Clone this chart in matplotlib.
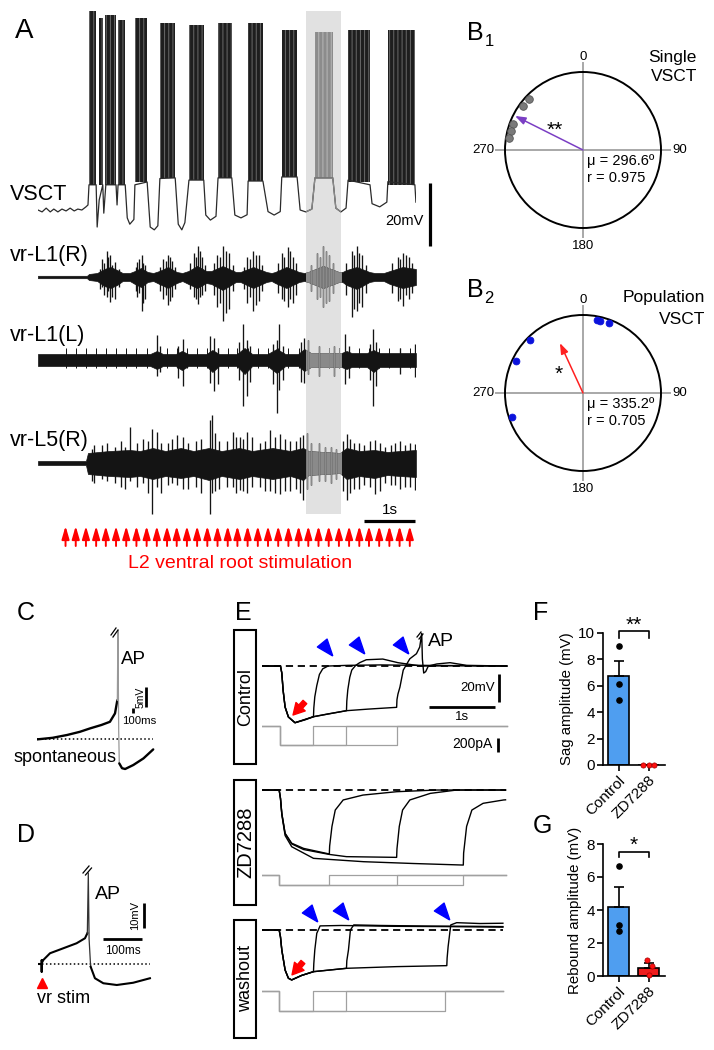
import numpy as np
import matplotlib
matplotlib.use("Agg")
import matplotlib.pyplot as plt
from matplotlib.patches import Rectangle

plt.rcParams['font.family'] = ['Liberation Sans', 'DejaVu Sans']
plt.rcParams['axes.unicode_minus'] = False
plt.rcParams['hatch.linewidth'] = 0.7

# ====================== DATA ======================
# ---- Panel A : time in s, VSCT in mV, ventral roots in a.u. ----
shade_s = [5.26, 5.94]
vsct_t = [0.00, 0.08, 0.16, 0.24, 0.31, 0.39, 0.47, 0.55, 0.63, 0.71, 0.78, 0.86, 0.94, 0.98,
          1.00, 1.14, 1.16, 1.20, 1.27, 1.29, 1.33, 1.53, 1.55, 1.57, 1.71,
          1.75, 1.80, 1.88, 1.90, 2.14, 2.20, 2.28, 2.35, 2.39, 2.69, 2.75, 2.82, 2.88, 2.96,
          3.25, 3.29, 3.38, 3.49, 3.53, 3.80, 3.86, 3.98, 4.10, 4.12, 4.41, 4.51, 4.63, 4.75,
          4.78, 5.08, 5.14, 5.25, 5.37, 5.43, 5.78, 5.84, 5.94, 6.04, 6.08, 6.51, 6.55, 6.70,
          6.84, 6.86, 7.39, 7.41]
vsct_mv = [-60.0, -60.6, -59.4, -60.6, -59.7, -60.6, -59.7, -60.3, -59.4, -60.3, -59.7, -60.0, -59.0, -58.4,
           -52, -52, -65.4, -56.8, -52, -61, -52, -52, -58.4, -52, -52,
           -62.5, -64.5, -63, -52, -51.1, -65.4, -66.3, -65, -50, -49.8, -64.5, -66.3, -64, -50.5,
           -50.5, -61.6, -63.2, -62, -49.8, -49.8, -61.6, -62.5, -61.5, -50.8, -50.8, -60.5, -61.6, -60.5,
           -49.5, -49.5, -60, -60.6, -59.7, -49.8, -49.8, -59.4, -60.6, -59.4, -50.5, -52, -58, -59,
           -57.5, -51, -52, -57.5]
burst_on_s = [1.00, 1.20, 1.31, 1.57, 1.90, 2.39, 2.96, 3.53, 4.12, 4.78, 5.43, 6.08, 6.86]
burst_off_s = [1.14, 1.27, 1.53, 1.71, 2.14, 2.69, 3.25, 3.80, 4.41, 5.08, 5.78, 6.51, 7.39]
burst_top_mv = [3.2, 1.0, 1.9, 0.3, 1.0, -0.6, -1.3, -0.6, -0.6, -2.9, -3.5, -2.9, -2.9]
burst_floor_mv = [-52, -52, -52, -52, -51.1, -49.8, -50.5, -49.8, -50.8, -49.5, -49.8, -51, -52]

vrL1R_t = [0.00, 0.96, 1.00, 1.16, 1.30, 1.42, 1.55, 1.66, 1.80, 1.90, 2.02, 2.15, 2.26, 2.38, 2.55,
           2.72, 2.83, 2.95, 3.12, 3.30, 3.40, 3.62, 3.88, 3.97, 4.22, 4.48, 4.58, 4.65, 4.87, 5.12,
           5.22, 5.30, 5.59, 5.90, 5.97, 6.05, 6.25, 6.50, 6.60, 6.78, 6.90, 7.15, 7.41]
vrL1R_up = [1.2, 1.2, 3, 4, 8, 10, 7, 4, 4, 6, 9, 5, 4, 6, 10, 5, 4, 6, 11, 6, 6, 11, 5, 5, 10, 5,
            4, 5, 10, 5, 4, 5, 11, 5, 5, 7, 10, 5, 4, 4, 6, 10, 8]
vrL1R_dn = [1.2, 1.2, 3, 4, 9, 11, 8, 4, 4, 7, 10, 5, 4, 7, 11, 6, 4, 7, 11, 6, 7, 13, 5, 5, 11, 5,
            4, 6, 11, 5, 4, 5, 11, 5, 5, 8, 12, 5, 4, 4, 7, 11, 8]
vrL1R_spk_t = [1.21, 1.25, 1.30, 1.35, 1.38, 1.42, 1.46, 1.50, 1.58, 1.92, 1.95, 1.99, 2.03, 2.06,
               2.10, 2.40, 2.45, 2.50, 2.55, 2.58, 2.62, 2.68, 2.98, 3.05, 3.09, 3.13, 3.17, 3.22,
               3.27, 3.45, 3.50, 3.56, 3.62, 3.68, 3.75, 3.82, 4.03, 4.10, 4.15, 4.22, 4.28, 4.33,
               4.40, 4.70, 4.78, 4.83, 4.90, 4.95, 5.00, 5.06, 5.35, 5.48, 5.53, 5.59, 5.64, 5.70,
               5.78, 6.04, 6.15, 6.20, 6.25, 6.30, 6.35, 6.43, 6.95, 7.05, 7.10, 7.15, 7.22, 7.28, 7.34]
vrL1R_spk_up = [8, 18, 14, 26, 20, 22, 12, 15, 8, 10, 15, 18, 22, 14, 12, 10, 18, 16, 22, 20, 16,
                10, 14, 24, 20, 31, 26, 20, 12, 14, 22, 20, 31, 26, 24, 12, 10, 20, 18, 26, 22, 22,
                12, 14, 24, 20, 30, 26, 20, 14, 12, 24, 20, 31, 26, 22, 14, 14, 26, 22, 31, 24, 22,
                12, 14, 20, 18, 24, 22, 20, 14]
vrL1R_spk_dn = [12, 10, 18, 20, 14, 25, 20, 22, 10, 14, 20, 16, 34, 26, 22, 14, 22, 18, 28, 24, 20,
                12, 12, 20, 22, 27, 20, 18, 14, 18, 30, 26, 44, 36, 32, 14, 12, 26, 20, 34, 28, 24,
                14, 16, 22, 24, 30, 22, 26, 18, 14, 22, 20, 30, 26, 24, 16, 18, 40, 32, 34, 26, 30,
                16, 16, 24, 22, 29, 18, 22, 16]

vrL1L_t = [0.00, 2.20, 2.33, 2.45, 2.70, 2.82, 2.95, 3.30, 3.42, 3.55, 3.90, 4.05, 4.20, 4.50,
           4.68, 4.85, 5.10, 5.22, 5.35, 5.95, 6.05, 6.15, 6.45, 6.58, 6.70, 7.41]
vrL1L_up = [6, 6, 9, 6, 6, 9, 6, 6, 10, 6, 6, 12, 6, 6, 11, 6, 6, 11, 7, 7, 9, 7, 7, 10, 7, 7]
vrL1L_dn = [6, 6, 9, 6, 6, 10, 6, 6, 12, 6, 6, 14, 6, 6, 13, 6, 6, 11, 7, 7, 9, 7, 7, 12, 7, 7]
vrL1L_spk_t = [2.33, 2.40, 2.75, 2.85, 3.37, 3.45, 3.52, 3.95, 4.02, 4.09, 4.15, 4.60, 4.68,
               4.73, 4.80, 5.15, 5.22, 5.30, 5.50, 5.80, 6.02, 6.10, 6.50, 6.57, 6.63, 7.10, 7.39]
vrL1L_spk_up = [25, 14, 14, 21, 24, 22, 12, 18, 36, 20, 14, 16, 20, 36, 14, 18, 22, 20, 14,
                14, 26, 14, 16, 31, 18, 12, 16]
vrL1L_spk_dn = [16, 12, 18, 26, 23, 31, 24, 20, 46, 36, 22, 24, 53, 30, 20, 22, 23, 14, 16,
                16, 24, 18, 20, 46, 26, 14, 17]
stim_artifact_up, stim_artifact_dn = 12, 8

vrL5R_t = [0.00, 0.94, 0.98, 1.40, 1.80, 2.00, 2.25, 2.50, 2.80, 3.05, 3.35, 3.60, 3.95, 4.20,
           4.60, 4.95, 5.20, 5.30, 5.60, 5.92, 6.05, 6.30, 6.60, 6.85, 7.10, 7.41]
vrL5R_up = [2, 2, 10, 12, 13, 12, 15, 12, 15, 12, 15, 12, 15, 12, 15, 12, 15, 12, 11, 10, 15, 12,
            13, 11, 12, 13]
vrL5R_dn = [2, 2, 11, 13, 14, 13, 16, 13, 15, 13, 17, 13, 16, 13, 16, 13, 17, 12, 11, 10, 16, 13,
            15, 12, 13, 14]
vrL5R_spk_t = [1.05, 1.10, 1.25, 1.35, 1.50, 1.62, 1.70, 1.80, 1.95, 2.05, 2.15, 2.23, 2.33, 2.42,
               2.55, 2.62, 2.73, 2.85, 2.95, 3.10, 3.20, 3.37, 3.41, 3.48, 3.55, 3.70, 3.82, 3.88,
               3.96, 4.02, 4.10, 4.20, 4.35, 4.45, 4.55, 4.65, 4.75, 4.85, 4.95, 5.05, 5.14, 5.20,
               5.27, 5.35, 5.50, 5.62, 5.75, 5.85, 5.98, 6.06, 6.12, 6.20, 6.30, 6.40, 6.50, 6.61,
               6.70, 6.80, 6.92, 7.00, 7.10, 7.20, 7.30, 7.39]
vrL5R_spk_up = [14, 18, 18, 20, 16, 22, 16, 36, 20, 24, 22, 34, 31, 20, 20, 24, 28, 26, 20, 22,
                24, 43, 48, 30, 22, 22, 31, 26, 26, 24, 31, 26, 20, 22, 33, 26, 29, 24, 22, 22,
                26, 28, 30, 20, 20, 16, 16, 14, 22, 29, 24, 20, 20, 18, 22, 23, 20, 16, 18, 20,
                22, 18, 20, 19]
vrL5R_spk_dn = [18, 20, 16, 18, 20, 24, 26, 18, 24, 20, 30, 51, 24, 30, 22, 20, 22, 26, 26, 24,
                30, 51, 30, 28, 26, 24, 24, 30, 27, 28, 30, 24, 24, 28, 28, 30, 31, 28, 28, 26,
                30, 37, 26, 22, 18, 18, 20, 16, 28, 37, 30, 26, 26, 22, 24, 31, 28, 20, 22, 22,
                26, 24, 24, 27]

stim_s = [0.54, 0.74, 0.94, 1.14, 1.33, 1.53, 1.73, 1.93, 2.13, 2.33, 2.53, 2.72, 2.92, 3.12,
          3.32, 3.52, 3.72, 3.91, 4.11, 4.31, 4.51, 4.71, 4.91, 5.11, 5.30, 5.50, 5.70, 5.90,
          6.10, 6.30, 6.49, 6.69, 6.89, 7.09, 7.29]

# ---- Panel B : phase preference (deg) ----
b1_angles_deg = [313.7, 306.3, 290.2, 284.7, 278.9]
b1_mu_deg, b1_r = 296.6, 0.975
b2_angles_deg = [10.8, 13.5, 20.6, 315.0, 295.8, 251.3]
b2_mu_deg, b2_r = 335.2, 0.705

# ---- Panel C : spontaneous spike (ms, mV rel. rest) ----
c_pre_t = [0, 40, 77, 110, 136, 165, 187, 200, 206]
c_pre_mv = [0, 0.4, 1.1, 1.9, 2.75, 3.6, 4.4, 6.5, 9.8]
c_ap_t = [206, 207.5, 209.5, 211]
c_ap_mv = [9.8, 27.3, 2.0, -6.0]
c_post_t = [211, 218, 226, 247, 273, 298]
c_post_mv = [-6.0, -7.2, -7.4, -6.4, -4.75, -2.5]

# ---- Panel D : vr-evoked spike (ms, mV rel. rest) ----
d_pre_t = [0, 9.4, 9.4, 9.4, 9.8, 13.6, 30.8, 65, 99, 120.5, 126.5]
d_pre_mv = [0, 0, -3.1, 1.6, 0.4, 1.6, 4.3, 6.3, 8.3, 10.3, 12.3]
d_ap_t = [126.5, 129, 131, 135]
d_ap_mv = [12.3, 36.4, 10.0, -1.1]
d_post_t = [135, 146, 167.5, 202, 244, 287]
d_post_mv = [-1.1, -5.7, -7.7, -8.4, -7.5, -5.7]
d_stim_ms = 10

# ---- Panel E : hyperpolarizing steps (s, mV rel. rest, pA) ----
ctl_t1 = [0, 0.28, 0.30, 0.32, 0.35, 0.40, 0.50, 0.65, 0.78, 0.785, 0.80, 0.83, 0.87, 0.92, 1.00, 1.30, 1.80, 2.40, 3.00, 3.71]
ctl_v1 = [0, 0, -5, -17.4, -29.3, -36.4, -40.5, -38.5, -36.2, -30, -22, -14, -6, -2, 0, 0.5, 0.8, 0.5, 0.3, 0]
ctl_t2 = [0, 0.28, 0.30, 0.32, 0.35, 0.40, 0.50, 0.78, 1.00, 1.28, 1.285, 1.30, 1.33, 1.36, 1.42, 1.48, 1.58, 1.83, 2.06, 2.41, 3.00, 3.71]
ctl_v2 = [0, 0, -5, -17.4, -29.3, -36.4, -40.5, -36.2, -34.2, -31.9, -25, -17, -8, -2.9, 0.5, 2.4, 4.5, 5, 2.4, 0, 0.3, 0]
ctl_t3 = [0, 0.28, 0.30, 0.32, 0.35, 0.40, 0.50, 0.78, 1.28, 1.60, 2.04, 2.045, 2.06, 2.09, 2.14, 2.24, 2.34, 2.39, 2.42, 2.43, 2.45, 2.48, 2.52, 2.65, 2.85, 3.10, 3.71]
ctl_v3 = [0, 0, -5, -17.4, -29.3, -36.4, -40.5, -36.2, -31.9, -30.8, -29.5, -24, -20, -15, -2.9, 5.2, 8.8, 13.6, 23.3, 5, -5, -4, 0, 1.5, 2.4, 0.5, 0]
ctl_step_on, ctl_step_off, ctl_step_pa = 0.27, [0.78, 1.28, 2.04], -270

zd_t1 = [0, 0.26, 0.28, 0.30, 0.35, 0.45, 0.63, 1.02, 1.025, 1.06, 1.11, 1.23, 1.53, 2.04, 2.65, 3.69]
zd_v1 = [0, 0, -6, -16.7, -31, -38, -41.7, -45.7, -40, -26, -14.3, -7.1, -3.6, -1.2, 0, 0]
zd_t2 = [0, 0.26, 0.28, 0.30, 0.35, 0.45, 0.63, 1.02, 1.28, 2.04, 2.045, 2.08, 2.13, 2.24, 2.55, 2.95, 3.69]
zd_v2 = [0, 0, -6, -16.7, -31, -38.5, -42.5, -46, -47.6, -48.1, -42, -26, -14.3, -7.1, -2.4, 0, 0]
zd_t3 = [0, 0.26, 0.28, 0.30, 0.35, 0.45, 0.78, 1.54, 2.30, 3.05, 3.055, 3.10, 3.18, 3.35, 3.66, 3.69]
zd_v3 = [0, 0, -6, -17.5, -32.5, -40.5, -48.8, -51.2, -52.5, -53.6, -45, -26, -14.3, -9.5, -7.1, -7]
zd_step_on, zd_step_off, zd_step_pa = 0.26, [1.02, 2.04, 3.05], -140

wo_t1 = [0, 0.26, 0.28, 0.30, 0.35, 0.40, 0.45, 0.60, 0.78, 0.785, 0.80, 0.83, 0.88, 1.20, 2.00, 2.80, 3.65]
wo_v1 = [0, 0, -5, -14.3, -28.6, -34.5, -35.7, -32.5, -29.8, -24, -14.3, -2.4, 2.9, 3.2, 2.6, 2.4, 2.0]
wo_t2 = [0, 0.26, 0.28, 0.30, 0.35, 0.40, 0.45, 0.60, 0.78, 1.28, 1.285, 1.31, 1.34, 1.39, 1.80, 2.50, 3.20, 3.65]
wo_v2 = [0, 0, -5, -14.3, -28.6, -34.5, -35.7, -32.5, -29.8, -27.4, -22, -14.3, 0, 3.6, 3.2, 2.8, 2.6, 2.4]
wo_t3 = [0, 0.26, 0.28, 0.30, 0.35, 0.40, 0.45, 0.60, 0.78, 1.28, 2.04, 2.80, 2.805, 2.82, 2.86, 2.95, 3.30, 3.65]
wo_v3 = [0, 0, -5, -14.3, -28.6, -34.5, -35.7, -32.5, -29.8, -27.4, -26.2, -25.5, -20, -11.9, 3.6, 5.2, 4.6, 4.8]
wo_step_on, wo_step_off, wo_step_pa = 0.26, [0.77, 1.28, 2.78], -285

ctl_rebound_marks_t = [0.98, 1.47, 2.14]
ctl_rebound_marks_v = [12.1, 13.3, 13.3]
wo_rebound_marks_t = [0.75, 1.23, 2.75]
wo_rebound_marks_v = [10.7, 11.9, 11.9]

# ---- Panels F, G ----
groups = ['Control', 'ZD7288']
sag_mean = [6.75, 0.0]
sag_sem = [1.15, 0.0]
sag_ctl_pts = [9.05, 6.15, 4.95]
sag_zd_pts = [0.0, 0.0, 0.0]
reb_mean = [4.2, 0.5]
reb_sem = [1.2, 0.28]
reb_ctl_pts = [6.65, 3.1, 2.75]
reb_zd_pts = [0.95, 0.62, 0.05]

# ====================== FIGURE ======================
W, H = 714, 1050
fig = plt.figure(figsize=(W / 100, H / 100), dpi=100)


def pax(x0, y0, x1, y1, **kw):
    ax = fig.add_axes([x0 / W, 1 - y1 / H, (x1 - x0) / W, (y1 - y0) / H], **kw)
    return ax


def blank(ax):
    ax.set_axis_off()
    ax.patch.set_alpha(0)


BLACK = '#141414'
GRAY = '#8a8a8a'

# ---------- Panel A ----------
A_X0, A_X1 = 38, 416
A_T1 = (A_X1 - A_X0) / 51.0

ax_bg = pax(A_X0, 11, A_X1, 514)
blank(ax_bg)
ax_bg.set_xlim(0, A_T1)
ax_bg.axvspan(shade_s[0], shade_s[1], color='#e1e1e1', lw=0)


def clip_to_shade(ax, artists):
    rect = Rectangle((shade_s[0], -1e4), shade_s[1] - shade_s[0], 2e4, transform=ax.transData)
    for a in artists:
        a.set_clip_path(rect)


# VSCT
ax_v = pax(A_X0, 5, A_X1, 240)
blank(ax_v)
ax_v.set_xlim(0, A_T1)
ax_v.set_ylim(-69.52, 5.08)


def draw_vsct(c, block_c, hatch_c):
    arts = list(ax_v.plot(vsct_t, vsct_mv, color=c, lw=0.9))
    for on, off, top, fl in zip(burst_on_s, burst_off_s, burst_top_mv, burst_floor_mv):
        arts.append(ax_v.fill_between([on, off], [fl, fl], [top, top], facecolor=block_c,
                                      edgecolor=hatch_c, hatch='||||', lw=0))
    return arts


draw_vsct('#2a2a2a', '#1e1e1e', '#6a6a6a')
clip_to_shade(ax_v, draw_vsct(GRAY, '#8c8c8c', '#b8b8b8'))
# 20 mV scale bar
ax_v.plot([7.69, 7.69], [-71.4, -51.4], color='k', lw=2.3, clip_on=False, solid_capstyle='butt')
ax_v.text(7.56, -63.5, '20mV', ha='right', va='center', fontsize=10.5)


def vr_axes(yc, half_up, half_dn):
    ax = pax(A_X0, yc - half_up, A_X1, yc + half_dn)
    blank(ax)
    ax.set_xlim(0, A_T1)
    ax.set_ylim(-half_dn, half_up)
    return ax


def draw_vr(ax, t, up, dn, st, su, sd, c, extra=None):
    t = np.asarray(t, float)
    arts = [ax.fill_between(t, np.asarray(up, float), -np.asarray(dn, float), color=c, lw=0.5)]
    arts.append(ax.vlines(st, -np.asarray(sd, float), np.asarray(su, float), color=c, lw=0.95))
    if extra is not None:
        arts.append(ax.vlines(extra[0], -extra[2], extra[1], color=c, lw=0.7))
    return arts


ax_r1 = vr_axes(277, 40, 50)
draw_vr(ax_r1, vrL1R_t, vrL1R_up, vrL1R_dn, vrL1R_spk_t, vrL1R_spk_up, vrL1R_spk_dn, BLACK)
clip_to_shade(ax_r1, draw_vr(ax_r1, vrL1R_t, vrL1R_up, vrL1R_dn, vrL1R_spk_t, vrL1R_spk_up, vrL1R_spk_dn, GRAY))

ax_r2 = vr_axes(360, 50, 60)
extra = (stim_s, stim_artifact_up, stim_artifact_dn)
draw_vr(ax_r2, vrL1L_t, vrL1L_up, vrL1L_dn, vrL1L_spk_t, vrL1L_spk_up, vrL1L_spk_dn, BLACK, extra)
clip_to_shade(ax_r2, draw_vr(ax_r2, vrL1L_t, vrL1L_up, vrL1L_dn, vrL1L_spk_t, vrL1L_spk_up, vrL1L_spk_dn, GRAY, extra))

ax_r3 = vr_axes(463, 50, 60)
draw_vr(ax_r3, vrL5R_t, vrL5R_up, vrL5R_dn, vrL5R_spk_t, vrL5R_spk_up, vrL5R_spk_dn, BLACK)
clip_to_shade(ax_r3, draw_vr(ax_r3, vrL5R_t, vrL5R_up, vrL5R_dn, vrL5R_spk_t, vrL5R_spk_up, vrL5R_spk_dn, GRAY))
# 1 s scale bar
ax_r3.plot([6.39, 7.39], [-58, -58], color='k', lw=2.3, clip_on=False, solid_capstyle='butt')
ax_r3.text(6.89, -47, '1s', ha='center', va='center', fontsize=11)

# stimulation arrows
ax_s = pax(A_X0, 526, A_X1, 546)
blank(ax_s)
ax_s.set_xlim(0, A_T1)
ax_s.set_ylim(0, 1)
for t in stim_s:
    ax_s.annotate('', xy=(t, 1.0), xytext=(t, 0.0),
                  arrowprops=dict(arrowstyle='-|>,head_length=0.55,head_width=0.16', color='#ff0000',
                                  lw=1.4, shrinkA=0, shrinkB=0, mutation_scale=14))

# ---------- Panel B ----------
def polar_panel(box, angles, dot_fc, dot_ec, dot_s, mu, r, arrow_c):
    ax = pax(*box, projection='polar')
    ax.set_theta_zero_location('N')
    ax.set_theta_direction(-1)
    ax.set_ylim(0, 1)
    ax.set_xticks([])
    ax.set_yticks([])
    ax.grid(False)
    ax.spines['polar'].set_linewidth(1.4)
    ax.plot([-0.055, 1.06], [0.5, 0.5], transform=ax.transAxes, color='#a8a8a8', lw=1.4,
            clip_on=False, zorder=0.5)
    ax.plot([0.5, 0.5], [-0.06, 1.06], transform=ax.transAxes, color='#a8a8a8', lw=1.4,
            clip_on=False, zorder=0.5)
    ax.scatter(np.deg2rad(angles), [0.955] * len(angles), s=dot_s, c=dot_fc, edgecolors=dot_ec,
               linewidths=0.6, zorder=3, clip_on=False)
    ax.annotate('', xy=(np.deg2rad(mu), r), xytext=(0, 0),
                arrowprops=dict(arrowstyle='-|>,head_length=0.7,head_width=0.25', color=arrow_c,
                                lw=1.1, shrinkA=0, shrinkB=0, mutation_scale=9))
    kw = dict(transform=ax.transAxes, fontsize=9.5)
    ax.text(0.5, 1.095, '0', ha='center', va='center', **kw)
    ax.text(1.07, 0.5, '90', ha='left', va='center', **kw)
    ax.text(0.5, -0.115, '180', ha='center', va='center', **kw)
    ax.text(-0.065, 0.5, '270', ha='right', va='center', **kw)
    return ax


polar_panel((505, 72, 661, 228), b1_angles_deg, '#7a7a7a', '#555555', 30, b1_mu_deg, b1_r, '#7b3fc4')
polar_panel((505, 315, 661, 471), b2_angles_deg, '#0b12dc', '#0b12dc', 24, b2_mu_deg, b2_r, '#ff2020')

# ---------- Panel C ----------
ax_c = pax(37, 625, 157, 775)
blank(ax_c)
ax_c.set_xlim(0, 307.7)
ax_c.set_ylim(-8.9, 28.6)
ax_c.plot([c_pre_t[0], c_post_t[-1]], [0, 0], color='k', lw=1.1, ls=(0, (1, 1.6)))
ax_c.plot(c_pre_t, c_pre_mv, color='k', lw=1.7, solid_capstyle='round')
ax_c.plot(c_ap_t, c_ap_mv, color='#999999', lw=0.9)
ax_c.plot(c_post_t, c_post_mv, color='k', lw=1.7, solid_capstyle='round')
ax_c.plot([279.5, 279.5], [8.1, 13.1], color='k', lw=2.0, clip_on=False, solid_capstyle='butt')
ax_c.plot([246, 246], [6.6, 7.8], color='k', lw=2.0, clip_on=False, solid_capstyle='butt')
ax_c.text(265, 10.6, '5mV', rotation=90, ha='center', va='center', fontsize=7.5)
ax_c.text(262, 4.6, '100ms', ha='center', va='center', fontsize=8.2)

# ---------- Panel D ----------
ax_d = pax(38, 860, 158, 990)
blank(ax_d)
ax_d.set_xlim(0, 307.7)
ax_d.set_ylim(-10.4, 41.6)
ax_d.plot([d_pre_t[0], d_post_t[-1]], [0, 0], color='k', lw=1.1, ls=(0, (1, 1.6)))
ax_d.plot(d_pre_t, d_pre_mv, color='k', lw=1.5)
ax_d.plot(d_ap_t, d_ap_mv, color='#333333', lw=0.9)
ax_d.plot(d_post_t, d_post_mv, color='k', lw=1.5)
ax_d.plot([d_stim_ms], [-7.6], marker='^', color='#ff0000', ms=7, clip_on=False, ls='none')
ax_d.plot([271.8, 271.8], [14.4, 24.4], color='k', lw=2.0, clip_on=False, solid_capstyle='butt')
ax_d.text(249, 19.4, '10mV', rotation=90, ha='center', va='center', fontsize=8)
ax_d.plot([166.7, 266.7], [10, 10], color='k', lw=2.0, clip_on=False, solid_capstyle='butt')
ax_d.text(216.7, 5.4, '100ms', ha='center', va='center', fontsize=8.5)

# ---------- Panel E ----------
E_X0, E_X1 = 262, 510
E_T1 = (E_X1 - E_X0) / 66.0


def wedge_marker(angle_deg, length=1.0, width=0.75):
    a = np.deg2rad(angle_deg)
    d = np.array([np.cos(a), np.sin(a)])
    n = np.array([-d[1], d[0]])
    tip = 0.5 * length * d
    b1 = -0.5 * length * d + 0.5 * width * n
    b2 = -0.5 * length * d - 0.5 * width * n
    return [tuple(tip), tuple(b1), tuple(b2), tuple(tip)]


BLUE_WEDGE = wedge_marker(-50.8)


def e_voltage(y0, y1, ylim, traces, t_end):
    ax = pax(E_X0, y0, E_X1, y1)
    blank(ax)
    ax.set_xlim(0, E_T1)
    ax.set_ylim(*ylim)
    ax.plot([0, t_end], [0, 0], color='k', lw=1.3, ls=(0, (4, 2.6)), zorder=1)
    for t, v in traces:
        ax.plot(t, v, color='k', lw=1.0, zorder=2)
    return ax


def e_current(y0, y1, ylim, on, offs, amp, t_end):
    ax = pax(E_X0, y0, E_X1, y1)
    blank(ax)
    ax.set_xlim(0, E_T1)
    ax.set_ylim(*ylim)
    for off in offs:
        ax.plot([0, on, on, off, off, t_end], [0, 0, amp, amp, 0, 0], color='#a0a0a0', lw=0.9)
    return ax


ax_e1 = e_voltage(620, 730, (-45.7, 32.9), [(ctl_t1, ctl_v1), (ctl_t2, ctl_v2), (ctl_t3, ctl_v3)], 3.71)
ax_e1.plot(ctl_rebound_marks_t, ctl_rebound_marks_v, ls='none', marker=BLUE_WEDGE, ms=15,
           color='#0000ff', clip_on=False)
ax_e1.annotate('', xy=(0.47, -35), xytext=(0.65, -25.7),
               arrowprops=dict(arrowstyle='simple,head_length=0.9,head_width=1.0,tail_width=0.4',
                               color='#ff0000', mutation_scale=9, shrinkA=0, shrinkB=0))
ax_e1.plot([3.59, 3.59], [-25.7, -5.7], color='k', lw=2.0, clip_on=False, solid_capstyle='butt')
ax_e1.text(3.53, -15.7, '20mV', ha='right', va='center', fontsize=9.5)
ax_e1.plot([2.53, 3.53], [-29.3, -29.3], color='k', lw=2.0, clip_on=False, solid_capstyle='butt')
ax_e1.text(3.03, -36.6, '1s', ha='center', va='center', fontsize=9.5)
ax_i1 = e_current(720, 755, (-414.3, 85.7), ctl_step_on, ctl_step_off, ctl_step_pa, 3.71)
ax_i1.plot([3.58, 3.58], [-371, -171], color='k', lw=2.0, clip_on=False, solid_capstyle='butt')
ax_i1.text(3.50, -257, '200pA', ha='right', va='center', fontsize=10)

ax_e2 = e_voltage(770, 875, (-60.7, 14.3), [(zd_t1, zd_v1), (zd_t2, zd_v2), (zd_t3, zd_v3)], 3.69)
ax_i2 = e_current(868, 895, (-285.7, 100), zd_step_on, zd_step_off, zd_step_pa, 3.69)

ax_e3 = e_voltage(900, 990, (-42.9, 21.4), [(wo_t1, wo_v1), (wo_t2, wo_v2), (wo_t3, wo_v3)], 3.65)
ax_e3.plot(wo_rebound_marks_t, wo_rebound_marks_v, ls='none', marker=BLUE_WEDGE, ms=15,
           color='#0000ff', clip_on=False)
ax_e3.annotate('', xy=(0.455, -32.1), xytext=(0.62, -22.9),
               arrowprops=dict(arrowstyle='simple,head_length=0.9,head_width=1.0,tail_width=0.4',
                               color='#ff0000', mutation_scale=9, shrinkA=0, shrinkB=0))
ax_i3 = e_current(985, 1020, (-414.3, 85.7), wo_step_on, wo_step_off, wo_step_pa, 3.65)

# ---------- Panels F, G ----------
BAR_COLORS = ['#4f9ef0', '#ee1c1c']


def bar_panel(box, means, sems, ctl_pts, zd_pts, zd_offsets, ymax, yticks, ylabel, bracket, star):
    ax = pax(*box)
    ax.bar([0, 1], means, width=0.7, color=BAR_COLORS, edgecolor='k', lw=1.2, zorder=2)
    ax.errorbar([0, 1], means, yerr=[[0, 0], sems], fmt='none', ecolor='k', elinewidth=1.2,
                capsize=3.5, capthick=1.2, zorder=3)
    ax.scatter([0] * len(ctl_pts), ctl_pts, s=14, c='k', zorder=4, clip_on=False)
    ax.scatter(1 + np.asarray(zd_offsets), zd_pts, s=14, c='#ff1010', edgecolors='#a00000',
               linewidths=0.5, zorder=4, clip_on=False)
    ax.set_xlim(-0.517, 1.55)
    ax.set_ylim(0, ymax)
    ax.set_yticks(yticks)
    ax.set_xticks([0, 1])
    ax.set_xticklabels(groups, rotation=45, ha='right', rotation_mode='anchor')
    for s in ('top', 'right'):
        ax.spines[s].set_visible(False)
    for s in ('left', 'bottom'):
        ax.spines[s].set_linewidth(1.2)
    ax.tick_params(direction='out', length=4, width=1.2, labelsize=11, pad=2)
    ax.set_ylabel(ylabel, fontsize=10.8, labelpad=3)
    y_lo, y_hi, y_star = bracket
    ax.plot([0, 0, 1, 1], [y_lo, y_hi, y_hi, y_lo], color='k', lw=1.2, clip_on=False)
    ax.text(0.5, y_star, star, ha='center', va='center', fontsize=15)
    ax.patch.set_alpha(0)
    return ax


bar_panel((603, 633, 665, 765), sag_mean, sag_sem, sag_ctl_pts, sag_zd_pts, [-0.18, 0.0, 0.18],
          10, [0, 2, 4, 6, 8, 10], 'Sag amplitude (mV)', (9.6, 10.15, 10.55), '**')
bar_panel((603, 844, 665, 976), reb_mean, reb_sem, reb_ctl_pts, reb_zd_pts, [-0.06, 0.1, 0.03],
          8, [0, 2, 4, 6, 8], 'Rebound amplitude (mV)', (7.2, 7.5, 7.9), '*')

# ---------- Overlay: labels & annotations (pixel coordinates) ----------
ov = fig.add_axes([0, 0, 1, 1], zorder=20)
ov.set_xlim(0, W)
ov.set_ylim(H, 0)
blank(ov)


def T(x, y, s, size, ha='left', va='baseline', **kw):
    ov.text(x, y, s, fontsize=size, ha=ha, va=va, **kw)


T(15, 38, 'A', 20)
T(467, 40, 'B', 18)
T(484.5, 46, '1', 12)
T(467, 297, 'B', 18)
T(484.5, 303, '2', 12)
T(17, 620, 'C', 18)
T(17, 842, 'D', 18)
T(235, 620, 'E', 18)
T(533, 620, 'F', 18)
T(533, 833, 'G', 18)

T(10, 200, 'VSCT', 15.5)
T(10, 261, 'vr-L1(R)', 15.5)
T(10, 341, 'vr-L1(L)', 15.5)
T(10, 446, 'vr-L5(R)', 15.5)
T(240, 568, 'L2 ventral root stimulation', 14, ha='center', color='#ff0000')

T(697, 62, 'Single', 12.5, ha='right')
T(697, 81, 'VSCT', 12.5, ha='right')
T(555, 130, '**', 15, ha='center', va='center')
T(587, 165, 'μ = 296.6º', 10.5)
T(587, 182, 'r = 0.975', 10.5)

T(705, 302, 'Population', 12.5, ha='right')
T(705, 324, 'VSCT', 12.5, ha='right')
T(559, 374, '*', 15, ha='center', va='center')
T(587, 408, 'μ = 335.2º', 10.5)
T(587, 425, 'r = 0.705', 10.5)

T(121, 664, 'AP', 13.5)
T(13, 762, 'spontaneous', 13)
T(95, 899, 'AP', 14)
T(37, 1003, 'vr stim', 13)
T(428, 646, 'AP', 14)

# break marks on action potentials
for (xa, ya, xb, yb) in [(111, 635, 116, 628), (113, 637, 118, 630),
                         (83, 873, 89, 866), (85.5, 875, 91.5, 868),
                         (417, 637, 421, 632), (419, 639, 423, 634)]:
    ov.plot([xa, xb], [ya, yb], color='k', lw=0.9)

# condition boxes in E
for (y0, y1, name, fs) in [(630, 764, 'Control', 13), (780, 905, 'ZD7288', 14.5), (920, 1038, 'washout', 13)]:
    ov.add_patch(Rectangle((234, y0), 22, y1 - y0, fill=False, lw=1.5, ec='k'))
    T(245.5, (y0 + y1) / 2, name, fs, ha='center', va='center', rotation=90)

fig.savefig('out.png', dpi=100)
